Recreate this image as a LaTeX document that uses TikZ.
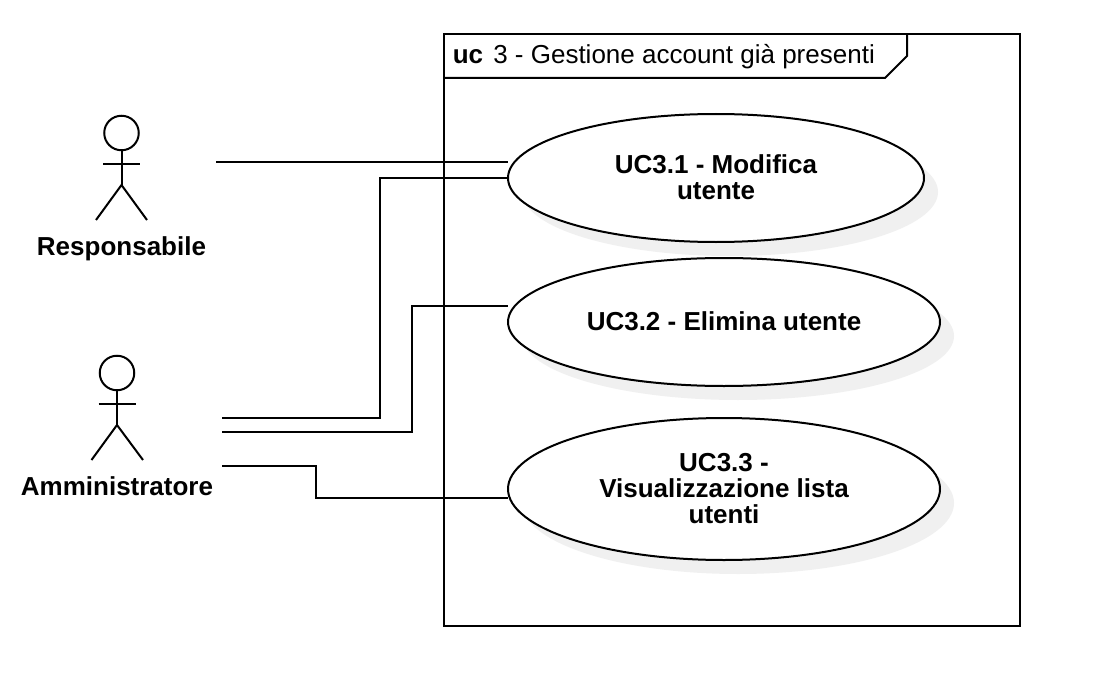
\documentclass[tikz,border=0pt]{standalone}
\usepackage{fontspec}
\setmainfont{Liberation Sans}
\usetikzlibrary{shapes.geometric}
\tikzset{
  line/.style={draw=black,line width=1.5pt},
  ucase/.style={ellipse,draw=black,line width=1.5pt,fill=white,inner sep=0pt,outer sep=0pt},
  shade/.style={ellipse,draw=none,fill=black!6,inner sep=0pt,outer sep=0pt},
  uctext/.style={align=center,inner sep=0pt,font=\bfseries\fontsize{19.5}{19.5}\selectfont},
  actorlabel/.style={anchor=base,font=\bfseries\fontsize{19.5}{22}\selectfont,inner sep=0pt},
  framelabel/.style={anchor=base west,inner sep=0pt,font=\fontsize{19.5}{22}\selectfont},
  head/.style={circle,draw=black,line width=1.5pt,minimum size=25.9pt,inner sep=0pt,outer sep=0pt},
}
\begin{document}
\begin{tikzpicture}[x=0.75pt,y=-0.75pt]
\useasboundingbox[fill=white] (0,0) rectangle (1102,688);
% frame
\draw[line] (444,34) rectangle (1020,626);
\draw[line] (444,78) -- (885,78) -- (907,56) -- (907,34);
\node[framelabel,font=\bfseries\fontsize{19.5}{22}\selectfont] (uc) at (452.5,64) {uc};
\node[framelabel] (title) at (493,64) {3 - Gestione account già presenti};
% shadows
\node[shade,minimum width=312pt,minimum height=96pt] (s1) at (730,192) {};
\node[shade,minimum width=324pt,minimum height=96pt] (s2) at (738,336) {};
\node[shade,minimum width=324pt,minimum height=106.5pt] (s3) at (738,503) {};
% use cases
\node[ucase,minimum width=312pt,minimum height=96pt] (u1) at (716,178) {};
\node[ucase,minimum width=324pt,minimum height=96pt] (u2) at (724,322) {};
\node[ucase,minimum width=324pt,minimum height=106.5pt] (u3) at (724,489) {};
\node[uctext] (t1) at (716,177.5) {UC3.1 - Modifica\\utente};
\node[uctext] (t2) at (724,321.5) {UC3.2 - Elimina utente};
\node[uctext] (t3) at (724,489) {UC3.3 -\\Visualizzazione lista\\utenti};
% actors
\node[head] (h1) at (121.5,133) {};
\draw[line] (h1.south) -- (121.5,185) coordinate (w1);
\draw[line] (103,164) -- (140,164);
\draw[line] (96,220) -- (w1) -- (147,220);
\node[actorlabel] (a1) at (121.5,255) {Responsabile};
\node[head] (h2) at (117,373) {};
\draw[line] (h2.south) -- (117,425) coordinate (w2);
\draw[line] (98.5,404) -- (135.5,404);
\draw[line] (91.5,460) -- (w2) -- (143,460);
\node[actorlabel] (a2) at (117,495) {Amministratore};
% connectors
\coordinate (c1) at (216,162);
\coordinate (c2) at (222,418);
\coordinate (c3) at (222,432);
\coordinate (c4) at (222,466);
\draw[line] (c1) -- (508,162);
\draw[line] (c2) -- (380,418) -- (380,178) -- (u1.west);
\draw[line] (c3) -- (412,432) -- (412,306) -- (508,306);
\draw[line] (c4) -- (316,466) -- (316,498) -- (508,498);
\end{tikzpicture}
\end{document}
